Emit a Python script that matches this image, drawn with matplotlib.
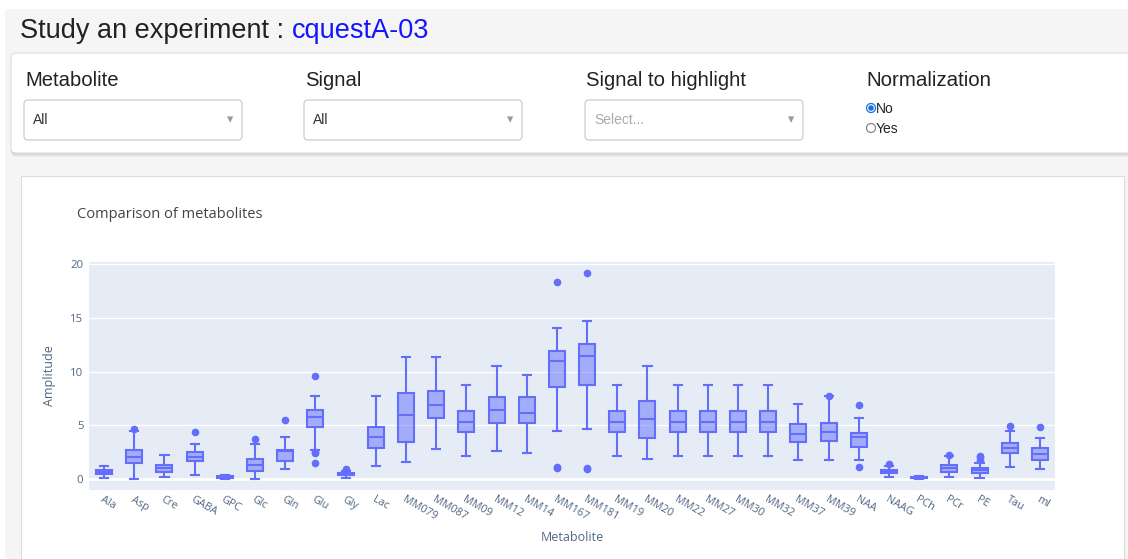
import matplotlib.pyplot as plt
from matplotlib.patches import FancyBboxPatch, Rectangle, Circle

# ----------------------------------------------------------------------
# Data
# ----------------------------------------------------------------------
metabolites = ["Ala", "Asp", "Cre", "GABA", "GPC", "Glc", "Gln", "Glu", "Gly", "Lac",
               "MM079", "MM087", "MM09", "MM12", "MM14", "MM167", "MM181", "MM19",
               "MM20", "MM22", "MM27", "MM30", "MM32", "MM37", "MM39", "NAA", "NAAG",
               "PCh", "PCr", "PE", "Tau", "mI"]
whislo = [0.10, 0.00, 0.20, 0.35, 0.05, 0.00, 0.95, 2.75, 0.15, 1.25,
          1.60, 2.80, 2.15, 2.60, 2.40, 4.45, 4.65, 2.15,
          1.85, 2.15, 2.15, 2.15, 2.15, 1.75, 1.75, 1.80, 0.20,
          0.05, 0.20, 0.10, 1.15, 0.95]
q1 = [0.50, 1.55, 0.65, 1.65, 0.12, 0.80, 1.65, 4.85, 0.35, 2.95,
      3.50, 5.70, 4.35, 5.25, 5.20, 8.55, 8.80, 4.35,
      3.80, 4.35, 4.35, 4.35, 4.35, 3.45, 3.55, 3.00, 0.55,
      0.10, 0.65, 0.55, 2.45, 1.80]
median = [0.70, 2.10, 1.05, 2.05, 0.20, 1.35, 2.60, 5.75, 0.50, 3.90,
          6.00, 6.90, 5.30, 6.40, 6.20, 10.95, 11.50, 5.30,
          5.60, 5.30, 5.30, 5.30, 5.30, 4.25, 4.40, 3.90, 0.75,
          0.15, 1.00, 0.85, 2.95, 2.35]
q3 = [0.90, 2.75, 1.35, 2.55, 0.28, 1.85, 2.75, 6.40, 0.60, 4.90,
      8.00, 8.25, 6.35, 7.65, 7.65, 11.95, 12.55, 6.35,
      7.30, 6.35, 6.35, 6.35, 6.35, 5.10, 5.25, 4.30, 0.90,
      0.20, 1.35, 1.00, 3.40, 2.95]
whishi = [1.25, 4.50, 2.25, 3.30, 0.35, 3.25, 3.90, 7.70, 0.80, 7.70,
          11.40, 11.40, 8.75, 10.50, 9.65, 14.05, 14.75, 8.75,
          10.50, 8.75, 8.75, 8.75, 8.75, 7.00, 7.75, 5.65, 1.20,
          0.30, 2.20, 1.55, 4.50, 3.80]
outliers = [[], [4.65], [], [4.4], [], [3.7], [5.5], [9.6, 2.55, 2.4, 1.55], [0.85, 0.95], [],
            [], [], [], [], [], [18.3, 1.1, 1.0], [19.2, 1.05, 0.95], [],
            [], [], [], [], [], [], [7.75], [6.9, 1.15], [1.4],
            [], [2.3], [2.2, 2.05, 1.75], [4.95], [4.9]]

filters = ["Metabolite", "Signal", "Signal to highlight"]
filter_values = ["All", "All", "Select..."]
norm_options = ["No", "Yes"]

BOX = "#636efa"
FONT_COL = "#506784"

W, H = 1128, 559
fig = plt.figure(figsize=(W / 100, H / 100), dpi=100)

# ----------------------------------------------------------------------
# Page background (pixel coordinates)
# ----------------------------------------------------------------------
bg = fig.add_axes([0, 0, 1, 1])
bg.set_xlim(0, W)
bg.set_ylim(H, 0)
bg.axis("off")
bg.add_patch(Rectangle((5, 9), W, H, facecolor="#f5f5f5", edgecolor="none"))

# title
t = bg.text(20, 31, "Study an experiment : ", fontsize=19.5, color="#222222",
            family="Liberation Sans", va="center", ha="left")
fig.canvas.draw()
bb = t.get_window_extent()
bg.text(bb.x1, 31, "cquestA-03", fontsize=19.5, color="#1414ff",
        family="Liberation Sans", va="center", ha="left")

# card 1 (filters) with soft shadow
for i, a in enumerate([0.05, 0.04, 0.03]):
    bg.add_patch(FancyBboxPatch((11, 55 + i), W, 100, boxstyle="round,pad=0,rounding_size=5",
                                facecolor="#000000", alpha=a, edgecolor="none"))
bg.add_patch(FancyBboxPatch((11, 53), W, 100, boxstyle="round,pad=0,rounding_size=5",
                            facecolor="white", edgecolor="#dddddd", linewidth=0.8))

xs = [25, 305, 586]
for x, lab, val in zip(xs, filters, filter_values):
    bg.text(x, 81, lab, fontsize=14.6, color="#222222", family="Liberation Sans",
            va="center", ha="left")
    bg.add_patch(FancyBboxPatch((x - 1, 100), 218, 40, boxstyle="round,pad=0,rounding_size=4",
                                facecolor="white", edgecolor="#cccccc", linewidth=0.9))
    bg.text(x + 8, 120, val, fontsize=10, family="Liberation Sans",
            color="#aaaaaa" if val == "Select..." else "#333333", va="center", ha="left")
    bg.text(x + 205, 120, "\u25be", fontsize=9, color="#999999", va="center", ha="center")

bg.text(866, 81, "Normalization", fontsize=14.8, color="#222222", family="Liberation Sans",
        va="center", ha="left")
for j, opt in enumerate(norm_options):
    yy = 108 + 20 * j
    bg.add_patch(Circle((871, yy), 4.5, facecolor="white",
                        edgecolor="#1a73e8" if j == 0 else "#888888", linewidth=0.9))
    if j == 0:
        bg.add_patch(Circle((871, yy), 2.8, facecolor="#1a73e8", edgecolor="none"))
    bg.text(876, yy + 1, opt, fontsize=10, color="#222222", family="Liberation Sans",
            va="center", ha="left")

# card 2 (chart)
for i, a in enumerate([0.05, 0.035, 0.02]):
    bg.add_patch(Rectangle((21 + i, 178 + i), 1103, 400, facecolor="#000000", alpha=a,
                           edgecolor="none"))
bg.add_patch(Rectangle((21, 176), 1103, 400, facecolor="white", edgecolor="#dddddd",
                       linewidth=0.8))
bg.text(77, 214, "Comparison of metabolites", fontsize=10.5, color="#444444",
        family="Open Sans", va="center", ha="left")

# ----------------------------------------------------------------------
# Box plot
# ----------------------------------------------------------------------
ax = fig.add_axes([89 / W, (H - 490) / H, 966 / W, 228 / H])
ax.set_facecolor("#e5ecf6")

stats = []
for i, name in enumerate(metabolites):
    stats.append({"label": name, "whislo": whislo[i], "q1": q1[i], "med": median[i],
                  "q3": q3[i], "whishi": whishi[i], "fliers": outliers[i]})

ax.bxp(stats, positions=range(len(metabolites)), widths=0.53, capwidths=0.27,
       patch_artist=True, showfliers=True,
       boxprops=dict(facecolor=(0.388, 0.431, 0.98, 0.5), edgecolor=BOX, linewidth=1.5),
       medianprops=dict(color=BOX, linewidth=1.5),
       whiskerprops=dict(color=BOX, linewidth=1.5),
       capprops=dict(color=BOX, linewidth=1.5),
       flierprops=dict(marker="o", markerfacecolor=BOX, markeredgecolor=BOX, markersize=4.5))

ax.set_xlim(-0.5, len(metabolites) - 0.5)
ax.set_ylim(-1.0, 20.2)
ax.set_yticks([0, 5, 10, 15, 20])
ax.grid(True, axis="y", color="white", linewidth=1.0)
ax.axhline(0, color="white", linewidth=2, zorder=0.5)
ax.set_axisbelow(True)
for s in ax.spines.values():
    s.set_visible(False)
ax.tick_params(axis="both", length=0, labelcolor=FONT_COL)
ax.tick_params(axis="y", pad=4, labelsize=8.2)
ax.tick_params(axis="x", pad=3, labelsize=7.8)
ax.set_xticks(range(len(metabolites)))
ax.set_xticklabels(metabolites, rotation=-30, ha="left", va="top", rotation_mode="anchor",
                   family="Open Sans")
for lab in ax.get_yticklabels():
    lab.set_family("Open Sans")
ax.set_ylabel("Amplitude", fontsize=9, color=FONT_COL, family="Open Sans", labelpad=10)
ax.set_xlabel("Metabolite", fontsize=9, color=FONT_COL, family="Open Sans", labelpad=6)

fig.savefig("out.png", dpi=100)
